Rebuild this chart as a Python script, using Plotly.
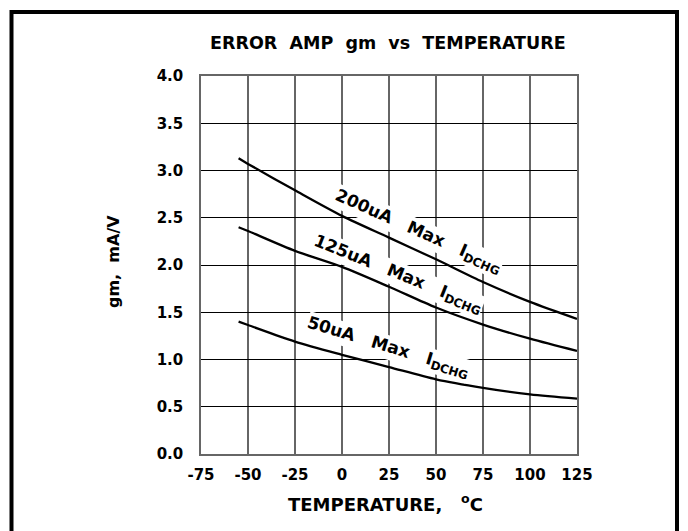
import plotly.graph_objects as go

# ---- data ----
temps = [-55, -50, -25, 0, 25, 50, 75, 100, 125]
gm_200uA = [3.13, 3.07, 2.79, 2.52, 2.29, 2.06, 1.82, 1.61, 1.43]
gm_125uA = [2.40, 2.36, 2.15, 1.98, 1.77, 1.55, 1.37, 1.22, 1.09]
gm_50uA = [1.40, 1.365, 1.19, 1.05, 0.92, 0.79, 0.70, 0.63, 0.585]

x_ticks = [-75, -50, -25, 0, 25, 50, 75, 100, 125]
y_ticks = [0.0, 0.5, 1.0, 1.5, 2.0, 2.5, 3.0, 3.5, 4.0]

NB = "\u00a0"
title_text = f"ERROR{NB*2}AMP{NB*2}gm{NB*2}vs{NB*2}TEMPERATURE"
curve_labels = [
    (f"200uA{NB*3}Max{NB*3}I<sub>DCHG</sub>", 40.2, 2.35, 24),
    (f"125uA{NB*3}Max{NB*3}I<sub>DCHG</sub>", 29.9, 1.90, 22),
    (f"50uA{NB*3}Max{NB*3}I<sub>DCHG</sub>", 24.6, 1.13, 17),
]

FONT = "DejaVu Sans"
W, H = 688, 531
L, R, T, B = 201, 111, 76, 77
pw, ph = W - L - R, H - T - B

def px_to_paper_x(px):
    return (px - L) / pw

def px_to_paper_y(py):
    return (H - B - py) / ph

fig = go.Figure()
for ys in (gm_200uA, gm_125uA, gm_50uA):
    fig.add_trace(go.Scatter(
        x=temps, y=ys, mode="lines",
        line=dict(color="black", width=2.3, shape="spline", smoothing=0.8),
        showlegend=False, hoverinfo="skip"))

annotations = []
for text, xv, yv, ang in curve_labels:
    annotations.append(dict(
        x=xv, y=yv, xref="x", yref="y", text=text, showarrow=False,
        textangle=ang, bgcolor="white", borderpad=0,
        font=dict(family=FONT, size=17, color="black", weight="bold"),
        xanchor="center", yanchor="middle"))

# axis titles
annotations.append(dict(
    x=px_to_paper_x(113), y=px_to_paper_y(262), xref="paper", yref="paper",
    text=f"gm,{NB*2}mA/V", textangle=-90, showarrow=False,
    font=dict(family=FONT, size=16, color="black", weight="bold"),
    xanchor="center", yanchor="middle"))
annotations.append(dict(
    x=px_to_paper_x(385), y=px_to_paper_y(503), xref="paper", yref="paper",
    text=f"TEMPERATURE,{NB*3}<sup>o</sup>C", showarrow=False,
    font=dict(family=FONT, size=18, color="black", weight="bold"),
    xanchor="center", yanchor="middle"))
annotations.append(dict(
    x=px_to_paper_x(388), y=px_to_paper_y(43), xref="paper", yref="paper",
    text=title_text, showarrow=False,
    font=dict(family=FONT, size=17.5, color="black", weight="bold"),
    xanchor="center", yanchor="middle"))

shapes = [dict(
    type="rect", xref="paper", yref="paper",
    x0=px_to_paper_x(11.5), x1=px_to_paper_x(677),
    y0=px_to_paper_y(560), y1=px_to_paper_y(12),
    line=dict(color="black", width=4), fillcolor="rgba(0,0,0,0)", layer="above")]

fig.update_layout(
    width=W, height=H,
    margin=dict(l=L, r=R, t=T, b=B, pad=0),
    paper_bgcolor="white", plot_bgcolor="white",
    annotations=annotations, shapes=shapes,
    font=dict(family=FONT, size=15, color="black", weight="bold"),
)
fig.update_xaxes(
    range=[-75, 125], tickvals=x_ticks, ticktext=[str(v) for v in x_ticks],
    showgrid=True, gridcolor="#666666", gridwidth=1.5,
    showline=True, linecolor="#666666", linewidth=1.5, mirror=True,
    zeroline=False, ticks="", ticklabelstandoff=6,
    tickfont=dict(family=FONT, size=15, color="black", weight="bold"))
fig.update_yaxes(
    range=[0, 4], tickvals=y_ticks, ticktext=[f"{v:.1f}" for v in y_ticks],
    showgrid=True, gridcolor="black", gridwidth=1,
    showline=True, linecolor="#666666", linewidth=1.5, mirror=True,
    zeroline=False, ticks="", ticklabelstandoff=13,
    tickfont=dict(family=FONT, size=15, color="black", weight="bold"))

fig.write_html(
    "out.html",
    config={"displayModeBar": False},
    post_script="document.body.style.margin='0';document.body.style.padding='0';document.body.style.overflow='hidden';",
)
